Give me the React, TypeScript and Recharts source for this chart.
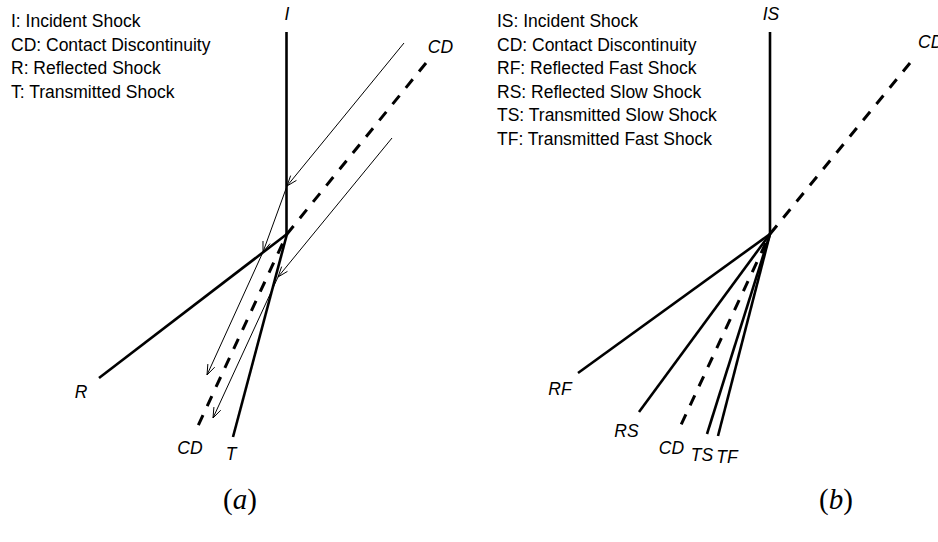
import React from 'react';
import { ComposedChart, Line, Scatter, XAxis, YAxis } from 'recharts';

type Pt = { x: number; y: number; arrow?: boolean };

// ---------- Panel (a): coordinates in diagram units (x right, y down) ----------
const incidentA: Pt[] = [{ x: 286.5, y: 32 }, { x: 286.5, y: 234 }];
const contactA: Pt[] = [{ x: 426, y: 63 }, { x: 287, y: 234 }, { x: 197, y: 428 }];
const reflectedA: Pt[] = [{ x: 287, y: 234 }, { x: 99, y: 378 }];
const transmittedA: Pt[] = [{ x: 287, y: 234 }, { x: 233, y: 437 }];
const ray1A: Pt[] = [
  { x: 404, y: 43 },
  { x: 287, y: 186, arrow: true },
  { x: 263, y: 252, arrow: true },
  { x: 207, y: 375, arrow: true },
];
const ray2A: Pt[] = [
  { x: 392, y: 138 },
  { x: 278, y: 277, arrow: true },
  { x: 213, y: 418, arrow: true },
];

// ---------- Panel (b) ----------
const incidentB: Pt[] = [{ x: 770, y: 32 }, { x: 770, y: 234 }];
const contactB: Pt[] = [{ x: 910, y: 63 }, { x: 770, y: 234 }, { x: 680, y: 427 }];
const fastReflB: Pt[] = [{ x: 770, y: 234 }, { x: 578, y: 373 }];
const slowReflB: Pt[] = [{ x: 770, y: 234 }, { x: 639, y: 412 }];
const slowTransB: Pt[] = [{ x: 770, y: 234 }, { x: 707, y: 434 }];
const fastTransB: Pt[] = [{ x: 770, y: 234 }, { x: 718, y: 436 }];

// ---------- Texts ----------
const legendA: string[] = [
  'I: Incident Shock',
  'CD: Contact Discontinuity',
  'R: Reflected Shock',
  'T: Transmitted Shock',
];
const legendB: string[] = [
  'IS: Incident Shock',
  'CD: Contact Discontinuity',
  'RF: Reflected Fast Shock',
  'RS: Reflected Slow Shock',
  'TS: Transmitted Slow Shock',
  'TF: Transmitted Fast Shock',
];
const legendAX = 11;
const legendBX = 497;
const legendTop = 27;
const legendStep = 23.6;

type Lbl = { x: number; y: number; text: string; anchor?: 'start' | 'middle' | 'end' };
const labelsA: Lbl[] = [
  { x: 287, y: 20, text: 'I' },
  { x: 440.5, y: 53, text: 'CD' },
  { x: 81, y: 398, text: 'R' },
  { x: 190, y: 453.5, text: 'CD' },
  { x: 231, y: 460, text: 'T' },
];
const labelsB: Lbl[] = [
  { x: 771, y: 20, text: 'IS' },
  { x: 918, y: 48, text: 'CD', anchor: 'start' },
  { x: 560, y: 395, text: 'RF' },
  { x: 626.5, y: 437, text: 'RS' },
  { x: 671.5, y: 454, text: 'CD' },
  { x: 702, y: 461, text: 'TS' },
  { x: 727, y: 463, text: 'TF' },
];
const captions: { x: number; y: number; text: string }[] = [
  { x: 240, y: 509, text: 'a' },
  { x: 836, y: 509, text: 'b' },
];

const SANS = '"Liberation Sans", Arial, Helvetica, sans-serif';

const legendPts = [
  ...legendA.map((t, i) => ({ x: legendAX, y: legendTop + i * legendStep, text: t })),
  ...legendB.map((t, i) => ({ x: legendBX, y: legendTop + i * legendStep, text: t })),
];
const labelPts = [...labelsA, ...labelsB];

const withPrev = (pts: Pt[]) =>
  pts.map((p, i) => ({ ...p, px: i > 0 ? pts[i - 1].x : p.x, py: i > 0 ? pts[i - 1].y : p.y }));

const ArrowDot = (props: any) => {
  const { cx, cy, payload, index } = props;
  if (!payload || !payload.arrow || cx == null || cy == null) return <g key={`n-${index}`} />;
  const ang = Math.atan2(payload.y - payload.py, payload.x - payload.px);
  const L = 11;
  const h = (20 * Math.PI) / 180;
  const x1 = cx - L * Math.cos(ang - h);
  const y1 = cy - L * Math.sin(ang - h);
  const x2 = cx - L * Math.cos(ang + h);
  const y2 = cy - L * Math.sin(ang + h);
  return (
    <path
      key={`a-${index}`}
      d={`M${x1},${y1} L${cx},${cy} L${x2},${y2}`}
      fill="none"
      stroke="#000"
      strokeWidth={1}
    />
  );
};

const LegendText = (props: any) => {
  const { cx, cy, payload } = props;
  return (
    <text x={cx} y={cy} fontFamily={SANS} fontSize={17.5} fill="#000" textAnchor="start">
      {payload.text}
    </text>
  );
};

const LabelText = (props: any) => {
  const { cx, cy, payload } = props;
  return (
    <text
      x={cx}
      y={cy}
      fontFamily={SANS}
      fontSize={17.5}
      fontStyle="italic"
      fill="#000"
      textAnchor={payload.anchor || 'middle'}
    >
      {payload.text}
    </text>
  );
};

const CaptionText = (props: any) => {
  const { cx, cy, payload } = props;
  return (
    <text
      x={cx}
      y={cy}
      fontFamily='"Liberation Serif", "Times New Roman", serif'
      fontSize={29}
      fill="#000"
      textAnchor="middle"
    >
      (<tspan fontStyle="italic">{payload.text}</tspan>)
    </text>
  );
};

const thick = (key: string, data: Pt[]) => (
  <Line
    key={key}
    data={data}
    dataKey="y"
    type="linear"
    stroke="#000"
    strokeWidth={2.6}
    dot={false}
    activeDot={false}
    isAnimationActive={false}
    legendType="none"
  />
);

const dashed = (key: string, data: Pt[]) => (
  <Line
    key={key}
    data={data}
    dataKey="y"
    type="linear"
    stroke="#000"
    strokeWidth={3}
    strokeDasharray="11 10"
    dot={false}
    activeDot={false}
    isAnimationActive={false}
    legendType="none"
  />
);

const ray = (key: string, data: Pt[]) => (
  <Line
    key={key}
    data={withPrev(data)}
    dataKey="y"
    type="linear"
    stroke="#000"
    strokeWidth={1}
    dot={ArrowDot}
    activeDot={false}
    isAnimationActive={false}
    legendType="none"
  />
);

export default function App() {
  return (
    <div style={{ position: 'absolute', left: 0, top: 0, width: 938, height: 542, background: '#fff' }}>
      <ComposedChart width={938} height={542} margin={{ top: 0, right: 0, bottom: 0, left: 0 }}>
        <XAxis type="number" dataKey="x" domain={[0, 938]} hide allowDataOverflow />
        <YAxis type="number" dataKey="y" domain={[0, 542]} reversed hide allowDataOverflow />
        {thick('ia', incidentA)}
        {dashed('ca', contactA)}
        {thick('ra', reflectedA)}
        {thick('ta', transmittedA)}
        {ray('r1', ray1A)}
        {ray('r2', ray2A)}
        {thick('ib', incidentB)}
        {dashed('cb', contactB)}
        {thick('rfb', fastReflB)}
        {thick('rsb', slowReflB)}
        {thick('tsb', slowTransB)}
        {thick('tfb', fastTransB)}
        <Scatter data={legendPts} dataKey="y" shape={LegendText} isAnimationActive={false} legendType="none" />
        <Scatter data={labelPts} dataKey="y" shape={LabelText} isAnimationActive={false} legendType="none" />
        <Scatter data={captions} dataKey="y" shape={CaptionText} isAnimationActive={false} legendType="none" />
      </ComposedChart>
    </div>
  );
}
